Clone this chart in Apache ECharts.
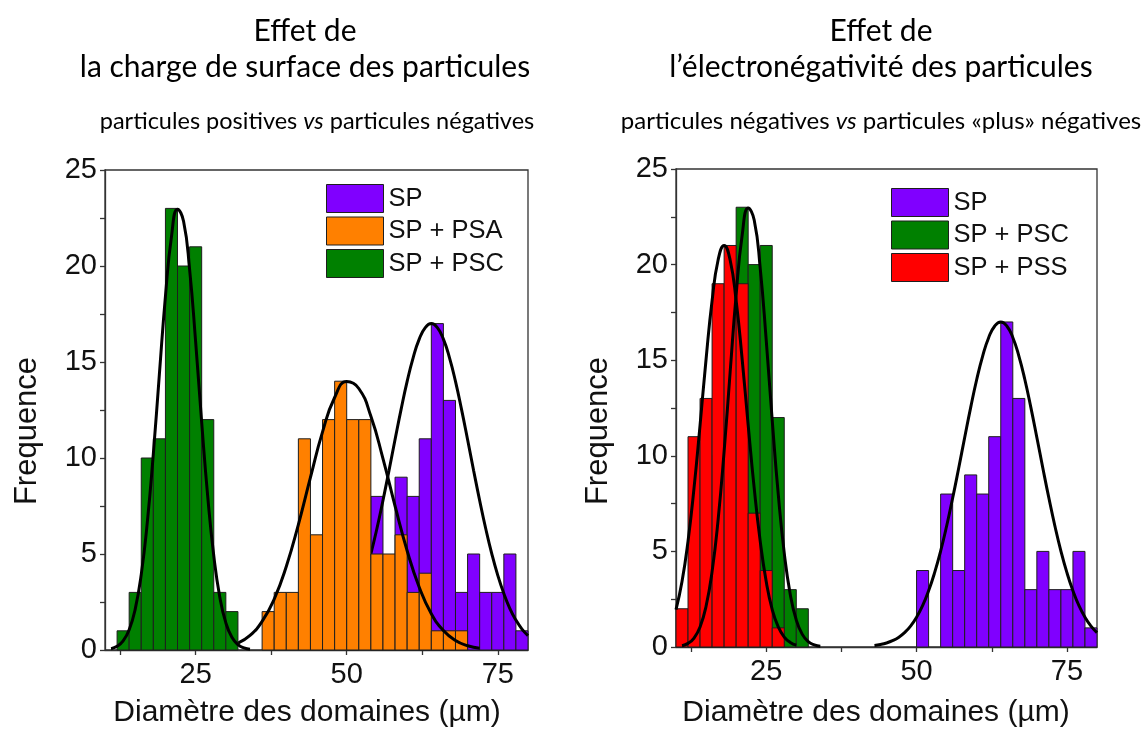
<!DOCTYPE html>
<html>
<head>
<meta charset="utf-8">
<script src="https://cdn.jsdelivr.net/npm/echarts@6/dist/echarts.min.js"></script>
<style>
html,body{margin:0;padding:0;background:#fff;}
#chart{width:1145px;height:731px;}
</style>
</head>
<body>
<div id="chart"></div>
<script>
// ---- Data ----
const binWidth = 2;
// SP
const spStart = 50;
const spCounts = [4, 0, 8, 4, 9, 8, 11, 17, 13, 3, 5, 3, 3, 5, 1];
// SP + PSA
const psaStart = 36;
const psaCounts = [2, 3, 3, 11, 6, 12, 14, 12, 12, 5, 5, 6, 3, 4, 1, 1, 1];
// SP + PSC
const pscStart = 12;
const pscCounts = [1, 3, 10, 11, 23, 20, 21, 12, 3, 2];
// SP + PSS
const pssStart = 10;
const pssCounts = [2, 11, 13, 19, 21, 19, 7, 4, 1];

// Fitted curves
const spFitX = [43,44,45,46,47,48,49,50,51,52,53,54,55,56,57,58,59,60,61,62,63,64,65,66,67,68,69,70,71,72,73,74,75,76,77,78,79,80];
const spFitY = [0.08,0.13,0.21,0.33,0.50,0.75,1.09,1.56,2.16,2.94,3.89,5.02,6.33,7.79,9.35,10.96,12.53,13.99,15.23,16.19,16.79,17.00,16.79,16.19,15.23,13.99,12.53,10.96,9.35,7.79,6.33,5.02,3.89,2.94,2.16,1.56,1.09,0.75];
const psaFitX = [32,34,36,38,40,42,44,46,48,50,52,54,56,58,60,62,64,66,68,70,72];
const psaFitY = [0.36,0.76,1.49,2.65,4.35,6.53,8.99,11.36,13.15,13.98,13.62,12.17,9.97,7.50,5.17,3.27,1.89,1.01,0.49,0.22,0.09];
const pscFitX = [11,12,13,14,15,16,17,18,19,20,21,22,23,24,25,26,27,28,29,30,31,32,33,34];
const pscFitY = [0.07,0.19,0.47,1.05,2.13,3.94,6.65,10.23,14.37,18.42,21.53,22.96,22.33,19.82,16.05,11.85,7.99,4.91,2.75,1.41,0.66,0.28,0.11,0.04];
const pssFitX = [10,11,12,13,14,15,16,17,18,19,20,21,22,23,24,25,26,27,28,29,30];
const pssFitY = [1.96,3.42,5.54,8.32,11.61,15.05,18.11,20.24,21.00,20.24,18.11,15.05,11.61,8.32,5.54,3.42,1.96,1.05,0.52,0.24,0.10];

const xTicks = [12.5, 25, 37.5, 50, 62.5, 75];
const xLabels = [25, 50, 75];

// ---- Colours ----
const C = { SP: '#8000ff', PSA: '#ff8000', PSC: '#008000', PSS: '#ff0000' };
const EDGE = '#1e1e1e';

function bins(start, counts) {
  return counts.map((c, i) => [start + i * binWidth, start + (i + 1) * binWidth, c]);
}
function pts(xs, ys) { return xs.map((x, i) => [x, ys[i]]); }

function histSeries(name, start, counts, color, gi, z) {
  return {
    type: 'custom', name: name, xAxisIndex: gi, yAxisIndex: gi, z: z,
    itemStyle: { color: color, borderColor: EDGE, borderWidth: 1 },
    encode: { x: [0, 1], y: 2 },
    data: bins(start, counts),
    renderItem: function (params, api) {
      const v = api.value(2);
      if (!v) return null;
      const p0 = api.coord([api.value(0), v]);
      const p1 = api.coord([api.value(1), 0]);
      return {
        type: 'rect',
        shape: { x: p0[0], y: p0[1], width: p1[0] - p0[0], height: p1[1] - p0[1] },
        style: { fill: color, stroke: EDGE, lineWidth: 1 }
      };
    }
  };
}
function fitSeries(xs, ys, gi, z) {
  return {
    type: 'line', xAxisIndex: gi, yAxisIndex: gi, z: z,
    data: pts(xs, ys), smooth: true, showSymbol: false, symbol: 'none',
    lineStyle: { color: '#000', width: 3 }, silent: true, clip: true
  };
}

const AX = '#333';
const FONT = 'Liberation Sans, Arial, sans-serif';
function mkX(gi) {
  return {
    type: 'value', gridIndex: gi, min: 10, max: 80,
    axisLine: { show: true, lineStyle: { color: AX, width: 1.3 } },
    axisTick: { show: true, customValues: xTicks, length: 5, lineStyle: { color: AX, width: 1.3 } },
    axisLabel: { customValues: xLabels, fontSize: 29, color: '#111', fontFamily: FONT, margin: 10 },
    splitLine: { show: false }
  };
}
function mkY(gi) {
  return {
    type: 'value', gridIndex: gi, min: 0, max: 25, interval: 5,
    axisLine: { show: true, lineStyle: { color: AX, width: 1.3 } },
    axisTick: { show: true, length: 5, lineStyle: { color: AX, width: 1.3 } },
    minorTick: { show: true, splitNumber: 2, length: 5, lineStyle: { color: AX, width: 1.3 } },
    axisLabel: { fontSize: 29, color: '#111', fontFamily: FONT, margin: 8 },
    splitLine: { show: false }, minorSplitLine: { show: false }
  };
}
function legendItem(name, color) {
  return { name: name, itemStyle: { color: color, borderColor: EDGE, borderWidth: 1 } };
}
function mkLegend(left, top, items) {
  return {
    orient: 'vertical', left: left, top: top, padding: 0,
    icon: 'rect', itemWidth: 57, itemHeight: 28, itemGap: 3.5,
    selectedMode: false,
    textStyle: { fontSize: 25.5, color: '#111', fontFamily: FONT },
    data: items
  };
}

const TFONT = 'Lato, "Noto Sans", sans-serif';
function txt(x, y, text, size, extra) {
  return Object.assign({
    type: 'text', x: x, y: y,
    style: { text: text, fill: '#000', align: 'center', verticalAlign: 'middle', font: size + 'px ' + TFONT }
  }, extra || {});
}
function richTxt(x, y, a, b, size) {
  return {
    type: 'text', x: x, y: y,
    style: {
      text: '{n|' + a + ' }{i|vs}{n| ' + b + '}',
      align: 'center', verticalAlign: 'middle',
      rich: {
        n: { fontSize: size, fontFamily: TFONT, fill: '#000' },
        i: { fontSize: size, fontFamily: TFONT, fontStyle: 'italic', fill: '#000' }
      }
    }
  };
}
function axisName(x, y, text, size, rot) {
  return {
    type: 'text', x: x, y: y, rotation: rot || 0,
    style: { text: text, fill: '#111', align: 'center', verticalAlign: 'middle', font: size + 'px ' + FONT }
  };
}

const option = {
  animation: false,
  backgroundColor: '#fff',
  grid: [
    { left: 105, top: 170, width: 423, height: 480, show: true, borderColor: AX, borderWidth: 1.3, backgroundColor: 'transparent' },
    { left: 676, top: 169, width: 421, height: 478, show: true, borderColor: AX, borderWidth: 1.3, backgroundColor: 'transparent' }
  ],
  xAxis: [mkX(0), mkX(1)],
  yAxis: [mkY(0), mkY(1)],
  legend: [
    mkLegend(326, 184, [legendItem('SP', C.SP), legendItem('SP + PSA', C.PSA), legendItem('SP + PSC', C.PSC)]),
    mkLegend(891, 188, [legendItem('SP', C.SP), legendItem('SP + PSC', C.PSC), legendItem('SP + PSS', C.PSS)])
  ],
  series: [
    histSeries('SP', spStart, spCounts, C.SP, 0, 2),
    fitSeries(spFitX, spFitY, 0, 3),
    histSeries('SP + PSA', psaStart, psaCounts, C.PSA, 0, 4),
    fitSeries(psaFitX, psaFitY, 0, 5),
    histSeries('SP + PSC', pscStart, pscCounts, C.PSC, 0, 6),
    fitSeries(pscFitX, pscFitY, 0, 7),

    histSeries('SP', spStart, spCounts, C.SP, 1, 2),
    histSeries('SP + PSC', pscStart, pscCounts, C.PSC, 1, 3),
    histSeries('SP + PSS', pssStart, pssCounts, C.PSS, 1, 4),
    fitSeries(spFitX, spFitY, 1, 6),
    fitSeries(pscFitX, pscFitY, 1, 6),
    fitSeries(pssFitX, pssFitY, 1, 7)
  ],
  graphic: [
    txt(305, 31, 'Effet de', 30),
    txt(305, 67, 'la charge de surface des particules', 30),
    richTxt(317, 121, 'particules positives', 'particules négatives', 23.5),
    txt(881, 31, 'Effet de', 30),
    txt(881, 67, 'l\u2019électronégativité des particules', 30),
    richTxt(881, 121, 'particules négatives', 'particules «plus» négatives', 24),
    axisName(307, 713, 'Diamètre des domaines (µm)', 30),
    axisName(876, 713, 'Diamètre des domaines (µm)', 30),
    axisName(27, 431, 'Frequence', 31, Math.PI / 2),
    axisName(598, 431, 'Frequence', 31, Math.PI / 2)
  ]
};

const chart = echarts.init(document.getElementById('chart'), null, { renderer: 'canvas' });
chart.setOption(option);
</script>
</body>
</html>
